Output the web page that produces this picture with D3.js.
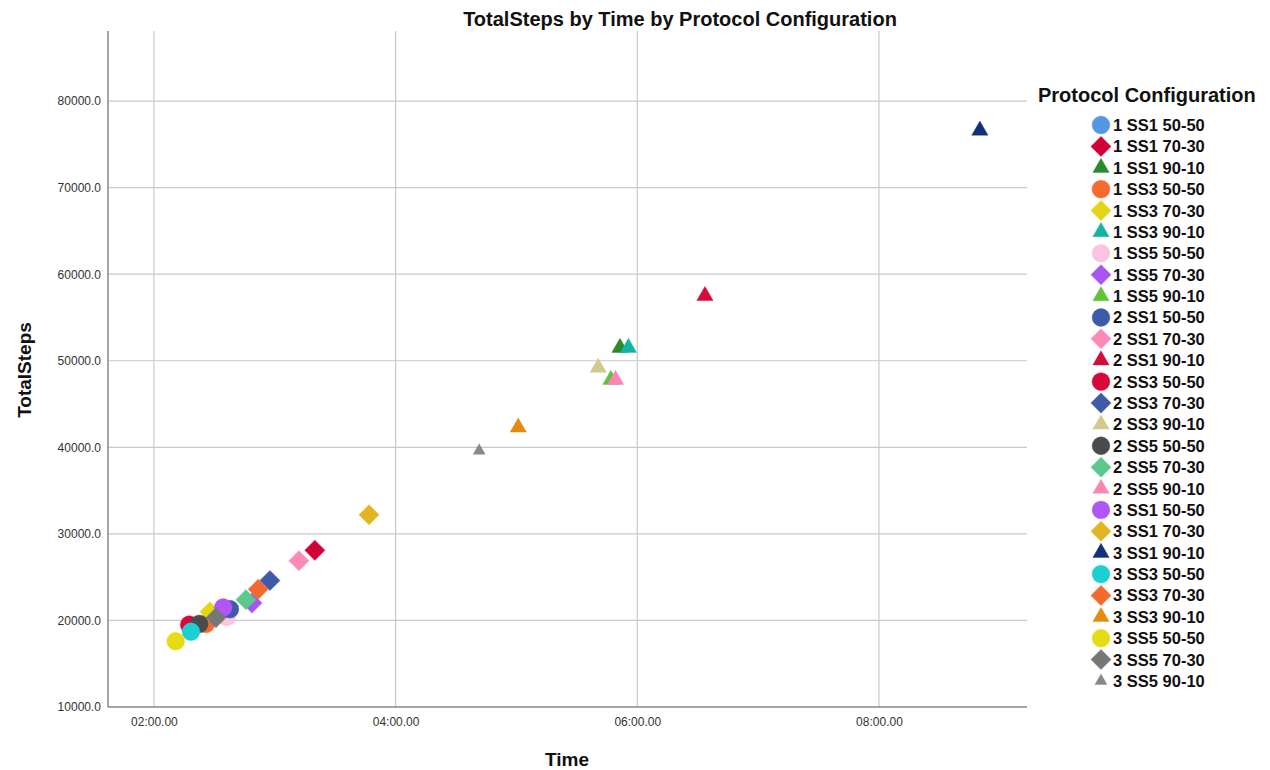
<!DOCTYPE html>
<html><head><meta charset="utf-8">
<script src="https://cdn.jsdelivr.net/npm/d3@7"></script>
<style>body{margin:0;background:#fff;font-family:"Liberation Sans",Arial,sans-serif;}</style>
</head><body><svg id="c" width="1270" height="770"></svg>
<script>
const configs = ["1 SS1 50-50","1 SS1 70-30","1 SS1 90-10","1 SS3 50-50","1 SS3 70-30","1 SS3 90-10","1 SS5 50-50","1 SS5 70-30","1 SS5 90-10","2 SS1 50-50","2 SS1 70-30","2 SS1 90-10","2 SS3 50-50","2 SS3 70-30","2 SS3 90-10","2 SS5 50-50","2 SS5 70-30","2 SS5 90-10","3 SS1 50-50","3 SS1 70-30","3 SS1 90-10","3 SS3 50-50","3 SS3 70-30","3 SS3 90-10","3 SS5 50-50","3 SS5 70-30","3 SS5 90-10"];
// time in seconds
const times = [153.8,199.9,351.4,145.8,147.8,355.6,156.1,168.7,346.9,157.7,192.0,393.6,137.5,177.6,340.6,142.5,165.7,349.2,154.4,226.8,530.1,138.4,171.8,300.9,130.8,150.8,281.5];
const steps = [21000,28100,51500,19600,21000,51500,20400,22000,47800,21300,26900,57500,19500,24600,49200,19600,22400,47800,21500,32200,76600,18700,23600,42300,17600,20300,39600];
const colors = ["#5596e6","#d20039","#2a8a2c","#f46a2f","#e4d616","#16b3a3","#fcc4df","#a855f2","#5fc33a","#3d5ba8","#fb8bb6","#d50b3c","#d8083b","#3e5aa8","#d2c98e","#4a4b4d","#5bc98e","#fd87b2","#b156f5","#e2b620","#13307a","#1ccfd0","#f26a2c","#e48c10","#e5db16","#777777","#888888"];
const shapes = ["circle","diamond","triangle","circle","diamond","triangle","circle","diamond","triangle","circle","diamond","triangle","circle","diamond","triangle","circle","diamond","triangle","circle","diamond","triangle","circle","diamond","triangle","circle","diamond","triangleSmall"];
const yTicks = [10000,20000,30000,40000,50000,60000,70000,80000];
const xTicks = [120,240,360,480];

const svg = d3.select("#c");
const L=108,R=1027,T=31,B=707;
const x = d3.scaleLinear().domain([97.2,553.5]).range([L,R]);
const y = d3.scaleLinear().domain([10000,88090]).range([B,T]);

const fmtTime = s => { const m=Math.floor(s/60), sec=s-m*60; return String(m).padStart(2,"0")+":"+sec.toFixed(2).padStart(5,"0"); };

// grid
svg.append("g").selectAll("line").data(yTicks.slice(1)).join("line")
  .attr("x1",L).attr("x2",R).attr("y1",d=>y(d)).attr("y2",d=>y(d))
  .attr("stroke","#c9c9c9").attr("stroke-width",1.2);
svg.append("g").selectAll("line").data(xTicks).join("line")
  .attr("x1",d=>x(d)).attr("x2",d=>x(d)).attr("y1",T).attr("y2",B)
  .attr("stroke","#c9c9c9").attr("stroke-width",1.2);

// axes
const yAxis = svg.append("g").attr("transform",`translate(${L},0)`)
  .call(d3.axisLeft(y).tickValues(yTicks).tickFormat(d=>d.toFixed(1)).tickSize(0).tickPadding(7));
const xAxis = svg.append("g").attr("transform",`translate(0,${B})`)
  .call(d3.axisBottom(x).tickValues(xTicks).tickFormat(fmtTime).tickSize(0).tickPadding(10));
yAxis.select(".domain").attr("stroke","#888").attr("stroke-width",1.5).attr("d",`M0,${T}V${B}`);
xAxis.select(".domain").attr("stroke","#888").attr("stroke-width",1.5).attr("d",`M${L},0H${R}`);
yAxis.selectAll("text").attr("font-size",12).attr("fill","#333").attr("font-family","Liberation Sans, Arial");
xAxis.selectAll("text").attr("font-size",12).attr("fill","#333").attr("font-family","Liberation Sans Narrow, Liberation Sans, Arial");

function sym(shape){
  if(shape==="circle") return d3.symbol(d3.symbolCircle,250)();
  if(shape==="diamond") return d3.symbol(d3.symbolSquare,200)();
  if(shape==="triangle") return d3.symbol(d3.symbolTriangle,115)();
  return d3.symbol(d3.symbolTriangle,62)();
}
function rot(shape){ return shape==="diamond" ? " rotate(45)" : ""; }

const idx = d3.range(configs.length);
svg.append("g").selectAll("path").data(idx).join("path")
  .attr("d",i=>sym(shapes[i]))
  .attr("transform",i=>`translate(${x(times[i])},${y(steps[i])})${rot(shapes[i])}`)
  .attr("fill",i=>colors[i]).attr("stroke",i=>colors[i]).attr("stroke-opacity",0.4).attr("stroke-width",1);

// titles
svg.append("text").attr("x",680).attr("y",26).attr("text-anchor","middle")
  .attr("font-size",20).attr("font-weight","bold").attr("fill","#111").text("TotalSteps by Time by Protocol Configuration");
svg.append("text").attr("x",567).attr("y",766).attr("text-anchor","middle")
  .attr("font-size",19).attr("font-weight","bold").attr("fill","#111").text("Time");
svg.append("text").attr("transform","translate(31,370) rotate(-90)").attr("text-anchor","middle")
  .attr("font-size",19).attr("font-weight","bold").attr("fill","#111").text("TotalSteps");

// legend
const lg = svg.append("g");
lg.append("text").attr("x",1038).attr("y",102).attr("font-size",20).attr("font-weight","bold").attr("fill","#111").text("Protocol Configuration");
const ly = d3.scaleLinear().domain([0,26]).range([125,681]);
const items = lg.selectAll("g.item").data(idx).join("g").attr("class","item")
  .attr("transform",i=>`translate(1101,${ly(i)})`);
items.append("path").attr("d",i=>sym(shapes[i])).attr("transform",i=>rot(shapes[i]).trim())
  .attr("fill",i=>colors[i]).attr("stroke",i=>colors[i]).attr("stroke-opacity",0.4);
items.append("text").attr("x",12).attr("y",6).attr("font-size",16.5).attr("font-weight","bold").attr("fill","#111").text(i=>configs[i]);
</script></body></html>
